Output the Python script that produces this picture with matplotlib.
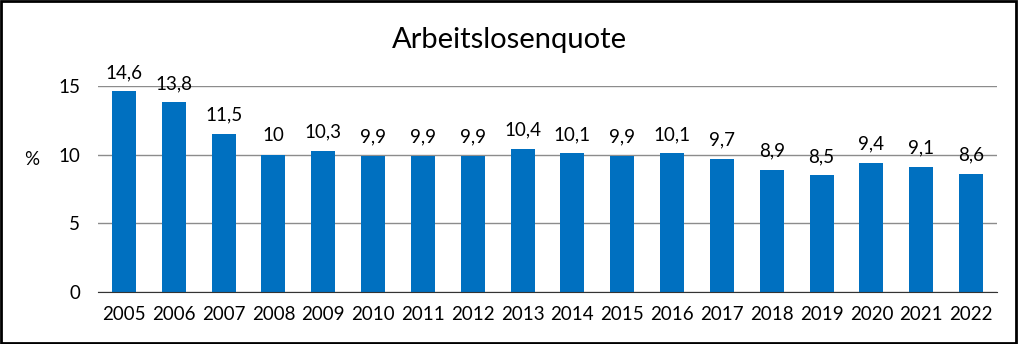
import matplotlib.pyplot as plt
from matplotlib.patches import Rectangle

#%% Data

years = ["2005", "2006", "2007", "2008", "2009", "2010", "2011", "2012", "2013",
         "2014", "2015", "2016", "2017", "2018", "2019", "2020", "2021", "2022"]
quote = [14.6, 13.8, 11.5, 10, 10.3, 9.9, 9.9, 9.9, 10.4,
         10.1, 9.9, 10.1, 9.7, 8.9, 8.5, 9.4, 9.1, 8.6]
yticks = [0, 5, 10, 15]

#%% Plot

plt.rcParams["font.family"] = ["Lato", "DejaVu Sans"]

fig = plt.figure(figsize=(10.18, 3.44), dpi=100)
ax = fig.add_axes([98/1018, 1 - 292/344, (997-98)/1018, (292-86)/344])

x = range(len(years))
ax.bar(x, quote, width=0.48, color="#0070C0", zorder=3)
for i, v in zip(x, quote):
    lbl = ("%g" % v).replace(".", ",")
    ax.text(i, v + 0.75, lbl, ha="center", va="bottom", fontsize=13.5, clip_on=False)

ax.set_xlim(-0.52, len(years) - 0.48)
ax.set_ylim(0, 15)
ax.set_yticks(yticks)
ax.set_yticklabels([str(t) for t in yticks], fontsize=13.5)
ax.set_xticks(list(x))
ax.set_xticklabels(years, fontsize=13.5)
ax.tick_params(length=0, pad=10)
ax.tick_params(axis="y", pad=13)
ax.grid(axis="y", color="#8c8c8c", linewidth=1, zorder=0)
for s in ["top", "right", "left"]:
    ax.spines[s].set_visible(False)
ax.spines["bottom"].set_color("#333333")
ax.spines["bottom"].set_zorder(4)

fig.text(32/1018, 1 - 160/344, "%", fontsize=13.5, ha="center", va="center")
fig.text(509/1018, 1 - 40/344, "Arbeitslosenquote", fontsize=21, ha="center", va="center")

fig.patches.append(Rectangle((0.001, 0.002), 0.997, 0.995, transform=fig.transFigure,
                             fill=False, edgecolor="black", linewidth=2))

fig.savefig("out.png", dpi=100)
